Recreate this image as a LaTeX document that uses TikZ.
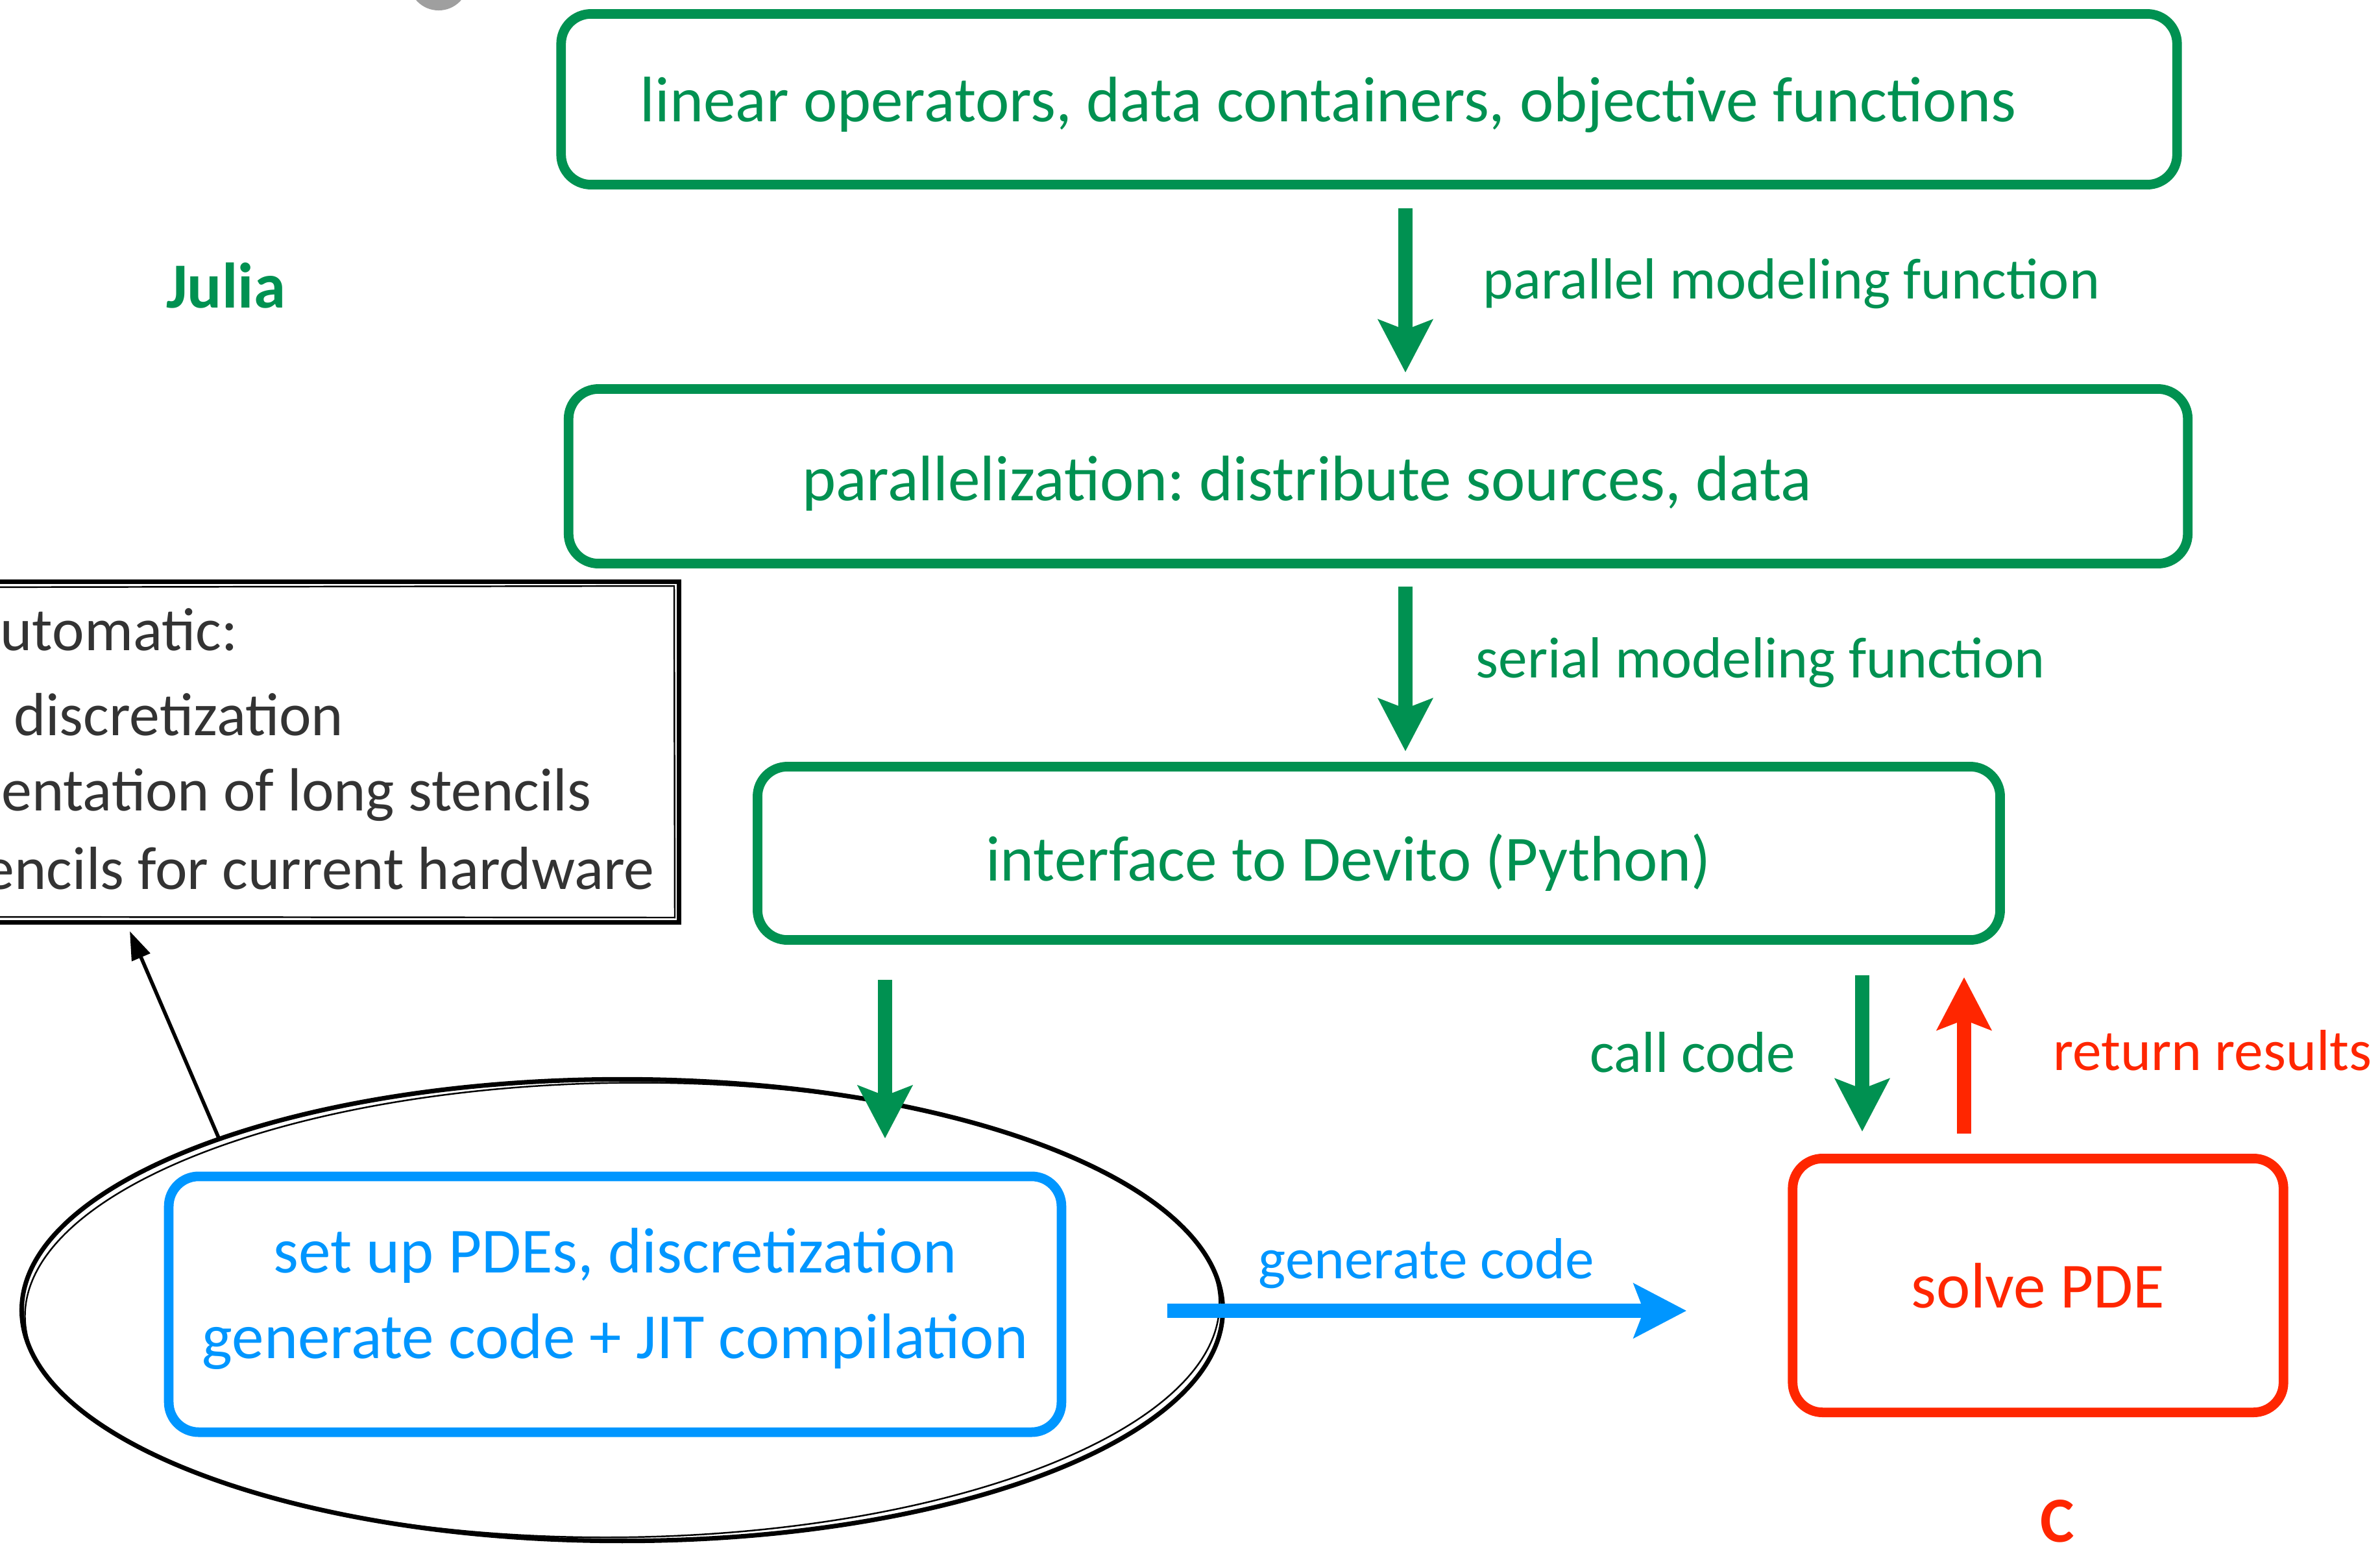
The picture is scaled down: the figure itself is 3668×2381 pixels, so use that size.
\documentclass[tikz,border=0pt]{standalone}
\usepackage{fontspec}
\setmainfont{Carlito}
\usetikzlibrary{arrows.meta,shapes.geometric}
\definecolor{jgreen}{RGB}{0,145,81}
\definecolor{dblue}{RGB}{0,150,255}
\definecolor{cred}{RGB}{255,38,0}
\definecolor{notegray}{RGB}{51,51,51}
\newcommand\boxfont{\fontsize{28.2}{37.3}\selectfont}
\newcommand\lblfont{\fontsize{25.4}{30}\selectfont}
\newcommand\notefont{\fontsize{26.7}{32}\selectfont}
\frenchspacing
\tikzset{
  layer/.style={draw=#1,text=#1,line width=4.2pt,rounded corners=0.46cm,inner sep=0pt,font=\boxfont,align=center},
  fat/.style={draw=#1,line width=6pt,-{Stealth[length=23pt,width=23.5pt,inset=4.3pt]}},
  lbl/.style={text=#1,font=\lblfont,inner sep=0pt},
  ltxt/.style={text=notegray,font=\notefont,inner sep=0pt,anchor=base east}
}
\begin{document}
\begin{tikzpicture}[x=0.01cm,y=-0.01cm]
\useasboundingbox (0,0) rectangle (3668,2381);
\clip (0,0) rectangle (3668,2381);
\fill[gray!75] (676,-30) circle (0.46cm);
% Julia side
\node[layer=jgreen,minimum width=24.89cm,minimum height=2.63cm] (top) at (2110,153) {};
\node[layer=jgreen,minimum width=24.94cm,minimum height=2.69cm] (par) at (2124,734) {};
\node[layer=jgreen,minimum width=19.14cm,minimum height=2.67cm] (dev) at (2125,1315) {};
\node[text=jgreen,font=\boxfont,anchor=base] (toptxt) at (2047,187) {linear operators, data containers, objective functions};
\node[text=jgreen,font=\boxfont,anchor=base] (partxt) at (2014,771) {parallelization: distribute sources, data};
\node[text=jgreen,font=\boxfont,anchor=base] (devtxt) at (2078,1357) {interface to Devito (Python)};
\node[text=jgreen,font=\boxfont\bfseries,anchor=base] (julia) at (348,474) {Julia};
\coordinate (xa) at (2166,0);
\coordinate (xb) at (1364,0);
\coordinate (xc) at (2870,0);
\coordinate (xd) at (3027,0);
\coordinate (yg) at (0,2020);
\coordinate (tipA) at (200,1435);
\draw[fat=jgreen,shorten <=8.3pt,shorten >=5.1pt] (top.south -| xa) -- (par.north -| xa);
\draw[fat=jgreen,shorten <=8pt,shorten >=4.6pt] (par.south -| xa) -- (dev.north -| xa);
\node[lbl=jgreen,anchor=base west] (parlbl) at (2285,460) {parallel modeling function};
\node[lbl=jgreen,anchor=base west] (serlbl) at (2274,1044) {serial modeling function};
% Devito side
\node[ellipse,draw,line width=2pt,minimum width=18.5cm,minimum height=7.11cm,outer sep=0pt] (jit) at (959,2019) {};
\draw[line width=.7pt,rotate around={0.7:(jit.center)}] (jit.center) ellipse [x radius=9.2cm,y radius=3.5cm];
\node[layer=dblue,minimum width=13.75cm,minimum height=3.94cm,text depth=9.6pt] (setup) at (948,2010) {set up PDEs, discretization\\generate code + JIT compilation};
\node[draw,line width=2pt,minimum width=11.2cm,minimum height=5.24cm,inner sep=0pt] (note) at (486,1159) {};
\draw[line width=.7pt] (-80,905) -- (1039,903) -- (1040,1414) -- (-80,1413);
\node[ltxt,anchor=base west] (n1) at (0,1002) {utomatic:};
\node[ltxt] (n2) at (530,1133) {discretization};
\node[ltxt] (n3) at (912,1249) {entation of long stencils};
\node[ltxt] (n4) at (1009,1370) {encils for current hardware};
\draw[line width=1.6pt,-{Triangle[length=12.5pt,width=8.5pt]}] (jit.157.6) -- (tipA);
\draw[fat=jgreen,shorten <=15.4pt,shorten >=14.5pt] (dev.south -| xb) -- (setup.north -| xb);
% C side
\node[layer=cred,minimum width=7.56cm,minimum height=3.91cm,text height=19.8pt,text depth=0pt] (solve) at (3141,1981) {solve PDE};
\node[text=cred,font=\boxfont\bfseries,anchor=base] (clang) at (3171,2376) {C};
\draw[fat=jgreen,shorten <=13.4pt,shorten >=9.7pt] (dev.south -| xc) -- (solve.north -| xc);
\draw[fat=cred,shorten <=8.8pt,shorten >=14.2pt] (solve.north -| xd) -- (dev.south -| xd);
\node[lbl=jgreen,anchor=base east] (calllbl) at (2768,1652) {call code};
\node[lbl=cred,anchor=base west] (retlbl) at (3164,1649) {return results};
\draw[fat=dblue,shorten <=44.4pt,shorten >=44.4pt] (setup.east |- yg) -- (solve.west |- yg);
\node[lbl=dblue,anchor=base west] (genlbl) at (1939,1970) {generate code};
\end{tikzpicture}
\end{document}
